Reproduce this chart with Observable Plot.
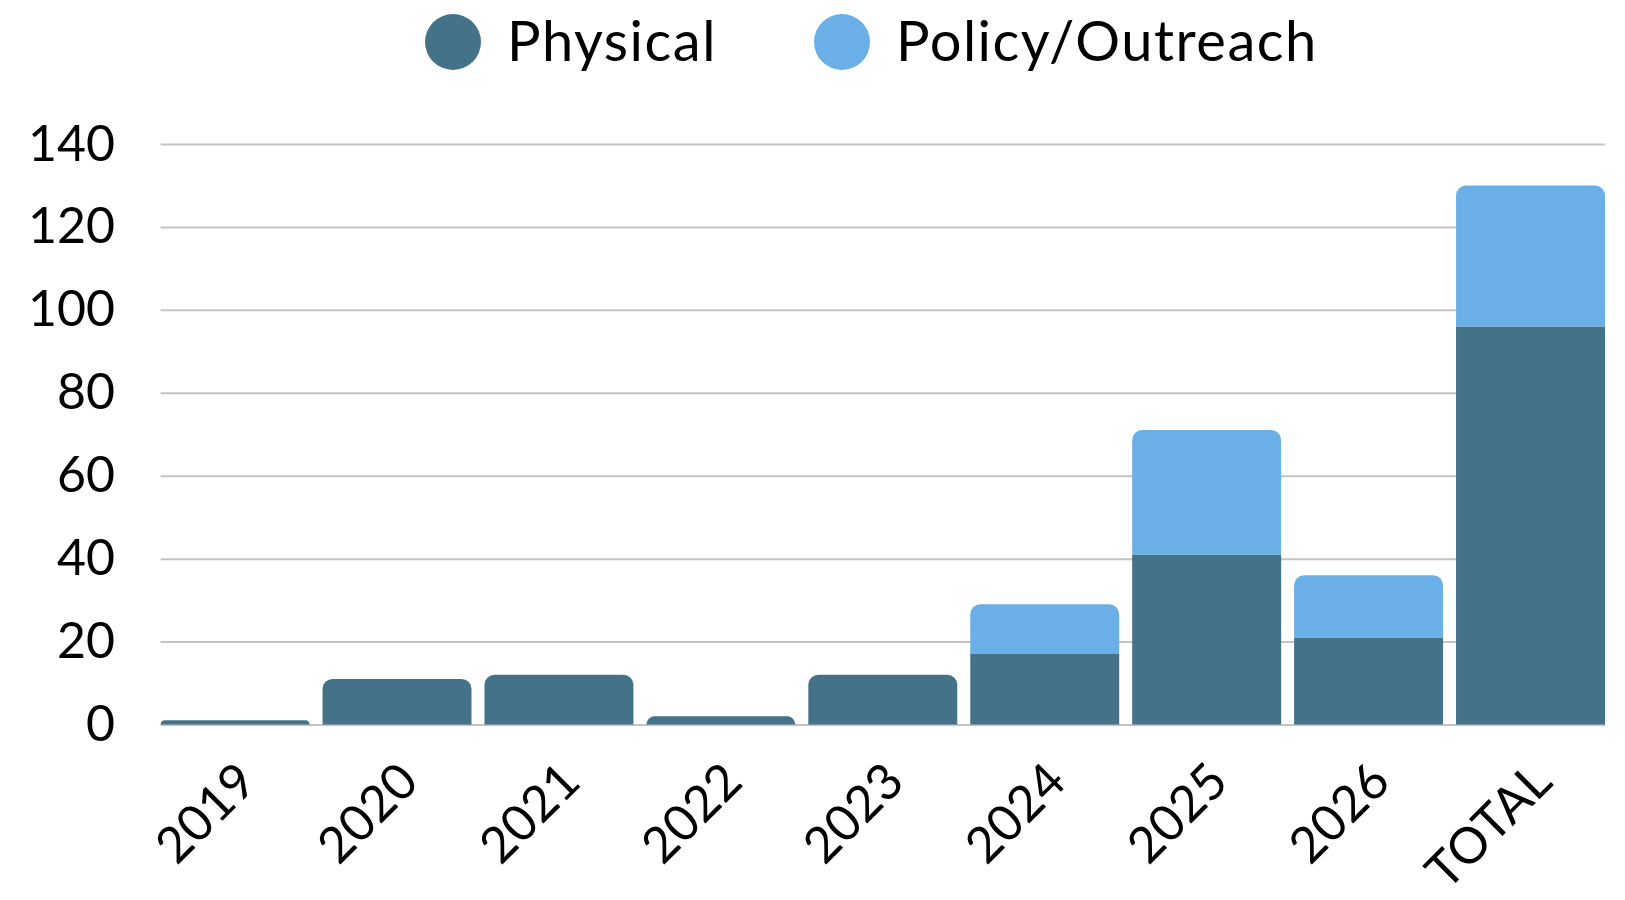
<!DOCTYPE html>
<html>
<head>
<meta charset="utf-8">
<script src="https://cdn.jsdelivr.net/npm/d3@7"></script>
<script src="https://cdn.jsdelivr.net/npm/@observablehq/plot@0.6"></script>
<style>
  html, body { margin: 0; padding: 0; background: #fff; }
  body { width: 1625px; height: 900px; overflow: hidden; font-family: Lato, "Noto Sans", sans-serif; }
  #legend { position: relative; height: 90px; }
  .item { position: absolute; top: 14px; display: flex; align-items: center; height: 56px; font-size: 56px; letter-spacing: 1.5px; color: #000; }
  .item .lbl { position: relative; top: -3px; }
  .sw { width: 56px; height: 56px; border-radius: 50%; margin-right: 26px; }
</style>
</head>
<body>
<div id="legend"></div>
<div id="chart"></div>
<script>
const categories = ["2019", "2020", "2021", "2022", "2023", "2024", "2025", "2026", "TOTAL"];
const physical = [1, 11, 12, 2, 12, 17, 41, 21, 96];
const policy = [0, 0, 0, 0, 0, 12, 30, 15, 34];
const seriesNames = ["Physical", "Policy/Outreach"];
const seriesColors = ["#447389", "#6bafe8"];
const yTicks = [0, 20, 40, 60, 80, 100, 120, 140];

// legend
const legend = document.getElementById("legend");
const legendLeft = [425, 814];
seriesNames.forEach((name, i) => {
  const it = document.createElement("div");
  it.className = "item";
  it.style.left = legendLeft[i] + "px";
  it.innerHTML = `<span class="sw" style="background:${seriesColors[i]}"></span><span class="lbl">${name}</span>`;
  legend.appendChild(it);
});

// stacked rows
const rows = [];
categories.forEach((c, i) => {
  rows.push({cat: c, series: "Physical", y1: 0, y2: physical[i], top: policy[i] === 0});
  if (policy[i] > 0) rows.push({cat: c, series: "Policy/Outreach", y1: physical[i], y2: physical[i] + policy[i], top: true});
});

const chart = Plot.plot({
  width: 1625,
  height: 810,
  marginTop: 54,
  marginBottom: 175.5,
  marginLeft: 160.6,
  marginRight: 20,
  style: {fontFamily: "Lato, 'Noto Sans', sans-serif", fontSize: "50px", color: "#000", background: "#fff"},
  x: {domain: categories, paddingInner: 0.08, paddingOuter: 0, round: false, label: null},
  y: {domain: [0, 140], label: null},
  color: {domain: seriesNames, range: seriesColors},
  marks: [
    Plot.gridY(yTicks, {stroke: "#c3c3c3", strokeOpacity: 1, strokeWidth: 2}),
    Plot.barY(rows.filter(d => !d.top), {x: "cat", y1: "y1", y2: "y2", fill: "series"}),
    Plot.barY(rows.filter(d => d.top), {x: "cat", y1: "y1", y2: "y2", fill: "series", ry1: 10}),
    Plot.axisY({ticks: yTicks, tickSize: 0, tickPadding: 46, fontSize: 50, label: null}),
    Plot.axisX({tickSize: 0, tickRotate: -45, tickPadding: 48, dx: 12, fontSize: 50, label: null})
  ]
});
document.getElementById("chart").appendChild(chart);
</script>
</body>
</html>
